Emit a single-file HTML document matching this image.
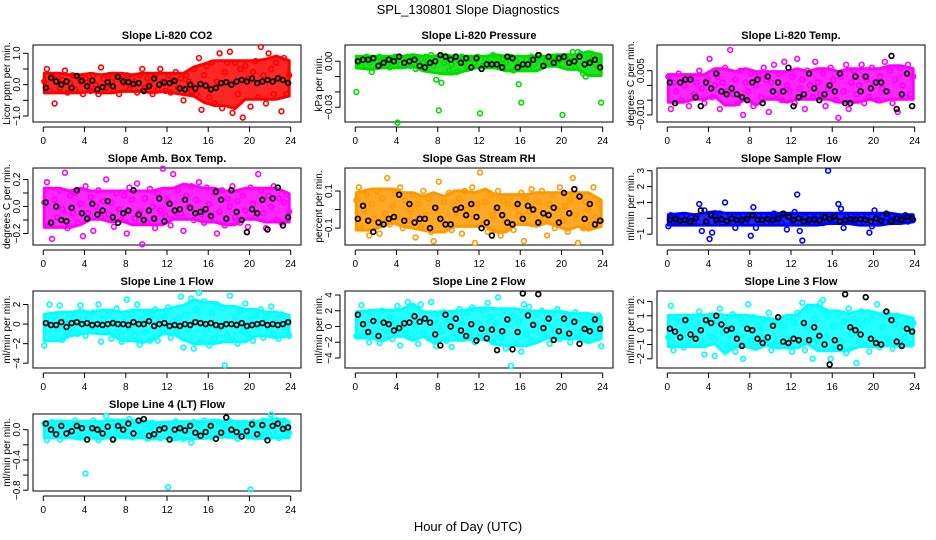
<!DOCTYPE html>
<html><head><meta charset="utf-8">
<style>
html,body{margin:0;padding:0;background:#fff;}
svg{display:block;font-family:"Liberation Sans",sans-serif;}
</style></head>
<body>
<svg id="chart" width="936" height="540" viewBox="0 0 936 540">
<rect x="0" y="0" width="936" height="540" fill="#fff"/>
<text x="468" y="14" text-anchor="middle" font-size="13">SPL_130801  Slope Diagnostics</text>
<text x="468" y="531" text-anchor="middle" font-size="13">Hour of Day (UTC)</text>
</svg>
<script>
const hours = [0.1,0.35,0.6,0.85,1.1,1.35,1.6,1.85,2.1,2.35,2.6,2.85,3.1,3.35,3.6,3.85,4.1,4.35,4.6,4.85,5.1,5.35,5.6,5.85,6.1,6.35,6.6,6.85,7.1,7.35,7.6,7.85,8.1,8.35,8.6,8.85,9.1,9.35,9.6,9.85,10.1,10.35,10.6,10.85,11.1,11.35,11.6,11.85,12.1,12.35,12.6,12.85,13.1,13.35,13.6,13.85,14.1,14.35,14.6,14.85,15.1,15.35,15.6,15.85,16.1,16.35,16.6,16.85,17.1,17.35,17.6,17.85,18.1,18.35,18.6,18.85,19.1,19.35,19.6,19.85,20.1,20.35,20.6,20.85,21.1,21.35,21.6,21.85,22.1,22.35,22.6,22.85,23.1,23.35,23.6,23.85];
const blackHours = [0.25,0.75,1.25,1.75,2.25,2.75,3.25,3.75,4.25,4.75,5.25,5.75,6.25,6.75,7.25,7.75,8.25,8.75,9.25,9.75,10.25,10.75,11.25,11.75,12.25,12.75,13.25,13.75,14.25,14.75,15.25,15.75,16.25,16.75,17.25,17.75,18.25,18.75,19.25,19.75,20.25,20.75,21.25,21.75,22.25,22.75,23.25,23.75];
const xTicks = [0,4,8,12,16,20,24];

const co2Vals = [0.1,0.5,-0.2,0.2,-0.6,0.3,-0.1,0.15,0.45,-0.25,0.05,0.3,-0.15,0.25,0.1,-0.3,0.2,0.05,-0.2,0.3,0.0,-0.3,0.55,0.2,-0.1,0.3,0.1,-0.2,0.25,-0.3,0.15,0.05,0.3,-0.15,0.2,0.1,-0.25,0.3,0.5,-0.1,0.2,0.0,-0.3,0.3,-0.15,0.5,0.1,-0.2,0.3,-0.25,0.15,0.4,-0.1,0.2,-0.5,0.3,0.1,-0.2,0.5,-0.3,0.85,-0.8,0.3,0.6,-0.4,0.7,-0.6,0.1,1.0,-0.75,0.4,0.7,1.05,-0.9,0.7,-0.3,0.5,-1.05,0.6,0.2,-0.7,0.4,0.75,-0.4,1.2,0.3,-0.6,1.0,0.5,-0.3,0.7,0.2,-0.85,0.85,-0.3,0.3];
const co2Black = [-0.1,0.22,0.1,0.0,0.1,-0.1,0.28,0.12,-0.05,0.13,-0.15,-0.08,0.08,-0.05,0.25,0.1,0.08,0.02,0.05,-0.2,-0.05,0.2,0.0,0.07,0.05,0.12,-0.12,-0.15,0.0,-0.12,0.02,-0.03,-0.15,-0.1,0.05,0.08,0.0,0.1,0.15,0.1,0.2,0.05,0.1,0.15,0.1,0.2,0.15,0.05];
const presVals = [-0.020,0.002,-0.003,0.001,0.003,-0.001,-0.007,0.002,0.000,0.003,-0.002,0.001,0.002,-0.004,0.000,0.003,-0.040,-0.002,0.002,-0.001,0.003,-0.003,0.001,-0.005,0.000,0.002,-0.001,0.003,-0.002,0.004,-0.003,-0.012,-0.032,-0.014,-0.001,0.003,-0.006,-0.002,0.002,-0.007,0.000,0.003,-0.001,-0.005,0.002,0.001,-0.001,0.003,-0.034,-0.003,0.002,0.000,-0.001,0.004,-0.002,0.003,-0.004,0.001,-0.001,0.002,0.003,-0.006,0.000,-0.015,-0.027,-0.005,0.001,-0.005,0.003,-0.002,0.001,0.004,0.000,-0.003,0.002,-0.001,0.003,-0.002,0.000,0.001,-0.035,0.002,-0.001,0.003,0.006,-0.004,0.006,0.005,-0.008,-0.010,0.002,0.000,0.003,-0.002,0.001,-0.027];
const presBlack = [0.000,0.001,0.001,0.002,-0.003,-0.001,0.001,0.000,0.003,-0.001,0.000,0.001,-0.003,-0.004,-0.001,0.000,0.004,0.003,0.001,0.003,-0.001,0.002,-0.004,0.002,-0.005,-0.002,-0.002,-0.002,-0.004,0.003,0.002,-0.004,-0.002,-0.002,0.001,0.004,-0.003,0.003,-0.001,0.002,0.003,-0.001,0.000,0.003,-0.002,-0.001,0.001,-0.004];
const tempVals = [0.003,-0.008,0.001,-0.002,0.004,-0.005,0.000,0.002,-0.007,0.003,-0.003,0.001,0.005,-0.001,-0.006,0.002,0.009,-0.004,0.000,0.003,-0.008,0.001,0.006,-0.002,0.012,-0.003,0.002,-0.006,0.005,-0.010,0.001,-0.002,0.004,-0.007,0.000,0.003,-0.004,0.006,0.002,-0.009,0.001,0.007,-0.003,0.004,-0.005,0.008,0.000,-0.002,0.003,-0.006,0.009,-0.001,0.002,-0.008,0.005,0.000,-0.004,0.008,0.001,-0.003,0.004,-0.007,-0.001,0.006,0.002,-0.005,-0.011,0.003,-0.002,0.007,-0.008,0.001,0.005,-0.003,0.000,0.007,-0.006,0.002,-0.004,0.006,0.001,-0.005,0.003,-0.001,0.008,-0.002,0.005,-0.006,0.002,-0.009,0.006,0.000,-0.004,0.007,-0.003,0.003];
const tempBlack = [0.001,-0.006,0.001,0.002,0.002,-0.004,-0.007,0.001,-0.001,0.004,-0.002,-0.003,-0.001,-0.003,-0.004,-0.005,0.001,0.002,-0.006,0.003,-0.002,0.001,-0.002,0.006,-0.007,-0.004,-0.003,0.004,-0.001,-0.005,-0.003,0.000,-0.002,0.004,-0.006,-0.006,0.003,-0.002,0.003,-0.001,0.001,0.001,-0.002,0.010,-0.008,-0.003,0.004,-0.007];
const ambVals = [0.03,0.18,-0.14,-0.24,0.05,-0.08,0.12,-0.02,0.25,-0.16,0.08,-0.05,0.10,-0.12,0.02,-0.22,0.15,-0.05,0.07,-0.18,0.00,0.12,-0.08,0.04,0.20,-0.06,0.03,-0.15,0.10,-0.02,-0.10,0.08,-0.20,0.14,0.05,-0.09,0.17,-0.04,-0.28,0.06,-0.12,0.13,0.00,-0.16,0.10,-0.03,0.28,-0.07,0.04,-0.14,0.24,-0.08,0.12,-0.05,-0.18,0.08,0.00,0.15,-0.10,0.05,0.18,-0.06,-0.12,0.14,0.02,-0.08,0.10,-0.20,-0.04,0.12,-0.14,0.06,0.00,0.15,-0.08,0.04,-0.12,0.08,-0.03,-0.15,0.14,0.02,-0.08,0.24,0.12,-0.05,-0.16,0.08,0.00,0.15,-0.10,0.06,-0.12,0.03,0.09,-0.04];
const ambBlack = [0.03,-0.12,0.00,-0.10,-0.11,-0.01,0.12,-0.05,-0.09,0.02,-0.06,-0.03,0.04,-0.08,-0.12,-0.05,-0.03,0.12,-0.06,-0.10,-0.03,-0.09,0.06,-0.11,0.02,-0.03,-0.02,0.05,-0.01,-0.05,-0.04,-0.02,-0.07,0.11,0.05,-0.09,0.12,-0.04,-0.10,-0.19,-0.02,-0.05,0.05,-0.17,0.06,0.14,-0.14,-0.08];
const rhVals = [0.05,0.12,-0.10,0.00,0.08,-0.14,0.03,-0.05,0.10,-0.13,0.06,-0.02,0.17,-0.08,0.02,0.10,-0.04,0.12,-0.10,0.05,-0.06,0.00,0.08,-0.15,0.03,-0.09,0.10,-0.03,0.06,-0.12,-0.17,0.00,0.15,-0.06,0.04,-0.08,0.09,-0.11,0.02,-0.02,0.06,-0.13,0.10,0.00,-0.05,0.12,-0.18,0.03,0.20,-0.08,0.04,-0.12,0.08,-0.03,0.00,0.10,-0.14,0.05,-0.07,0.03,0.07,-0.11,0.02,-0.03,0.09,-0.17,0.06,-0.01,0.11,0.00,-0.08,0.04,0.10,-0.05,-0.14,0.03,0.08,-0.10,0.00,0.12,-0.06,0.02,-0.12,0.05,0.17,-0.03,-0.18,0.08,-0.10,0.04,0.00,-0.08,0.12,-0.04,0.03,-0.06];
const rhBlack = [-0.05,0.02,-0.06,-0.12,-0.07,-0.08,-0.05,-0.04,0.08,-0.06,0.03,-0.07,-0.05,-0.05,-0.10,0.01,-0.05,-0.08,-0.08,0.00,0.01,-0.03,0.03,-0.04,-0.10,-0.07,-0.14,0.01,-0.03,-0.07,-0.08,0.03,-0.05,0.02,0.00,-0.07,-0.02,-0.03,0.01,-0.07,0.09,-0.02,0.11,0.07,-0.05,0.03,-0.08,-0.06];
const flowVals = [-0.5,0.2,-0.2,0.0,-0.3,0.1,-0.1,0.2,-0.3,0.05,-0.2,0.1,0.9,-0.8,0.5,-0.2,-1.3,-0.9,0.1,-0.3,0.3,-0.1,1.0,-0.2,0.2,-0.3,-0.6,0.1,-0.2,0.2,-0.3,0.1,-1.1,0.7,-0.6,0.2,-0.1,0.2,-0.3,0.1,-0.2,0.3,-0.1,0.0,-0.3,0.2,-0.7,0.1,-0.2,0.4,1.5,-0.8,-1.4,0.1,-0.2,0.2,-0.3,0.0,0.2,-0.1,-0.3,0.1,3.0,-0.2,0.2,-0.1,0.9,0.6,-0.6,0.1,-0.2,0.2,-0.1,0.0,-0.3,0.2,-0.1,0.1,-0.9,-0.5,0.5,0.2,-0.3,0.1,-0.2,0.0,-0.1,0.2,-0.2,0.1,-0.1,0.0,0.2,-0.2,0.1,-0.1];
const flowBlack = [-0.1,-0.05,-0.15,-0.1,-0.2,0.0,0.5,-0.2,0.2,-0.1,-0.05,-0.15,0.0,-0.1,-0.1,-0.05,0.2,-0.1,-0.1,-0.05,-0.1,0.0,0.3,0.1,-0.1,0.0,-0.2,-0.1,-0.1,-0.15,0.05,-0.05,0.1,-0.2,-0.1,-0.05,-0.1,-0.05,-0.1,-0.2,0.0,-0.15,0.3,-0.2,0.0,-0.1,0.1,0.0];
const line1Vals = [-2.2,0.5,2.0,-1.5,0.8,-0.5,1.9,-1.6,0.3,-0.8,1.0,-0.4,0.6,-1.0,1.9,0.4,-1.2,0.8,-0.6,1.2,-0.3,2.0,-1.8,0.5,-0.7,1.0,-1.5,0.3,1.6,-0.8,-1.8,0.7,2.5,-0.4,1.0,-1.2,2.0,-2.1,0.5,-0.8,1.2,-1.7,0.9,1.5,-1.7,0.4,-0.6,0.8,1.7,-1.4,0.3,-0.8,0.6,2.8,-2.4,1.0,-0.5,2.6,-2.5,1.5,3.2,-1.8,2.3,-0.6,-2.2,1.2,-1.5,2.0,-0.4,1.6,-4.2,-1.2,2.9,-1.6,0.5,-2.0,1.3,-0.7,2.1,-1.0,0.4,-1.7,0.9,-0.3,1.5,-1.4,0.7,-0.5,1.8,-1.0,0.6,-1.5,1.0,-0.3,0.5,-1.2];
const line1Black = [0.1,-0.1,-0.1,0.2,-0.3,0.1,0.2,0.0,0.1,-0.1,0.0,-0.1,0.0,0.1,0.0,0.0,-0.1,0.2,0.0,0.0,0.3,-0.2,0.0,0.1,-0.2,-0.1,-0.2,0.0,-0.1,0.2,0.1,0.0,0.1,-0.1,-0.2,0.0,0.0,-0.1,0.1,-0.2,-0.1,0.0,0.1,-0.1,0.0,-0.1,0.0,0.2];
const line2Vals = [-1.2,1.6,2.7,-0.8,0.4,-2.0,1.8,-1.0,0.6,-2.1,2.0,0.3,-0.7,1.2,-1.6,0.5,2.6,-2.4,0.8,-0.4,3.1,-1.0,1.5,0.2,-2.2,2.8,-0.8,1.0,-1.5,3.1,0.4,-2.5,1.6,-0.6,1.8,-1.8,0.8,-2.6,1.5,-1.0,2.2,0.3,-1.5,1.7,-0.8,2.4,-2.0,0.5,-1.3,2.1,-0.6,3.0,1.2,-2.0,0.4,3.7,-1.4,2.0,-2.8,0.9,-5.0,1.3,-2.2,0.6,-3.2,2.8,-1.0,2.5,-1.8,0.2,1.7,-0.6,2.0,-1.2,0.6,-2.2,1.6,-0.5,2.2,-1.6,0.8,-1.0,1.4,-2.0,0.5,1.8,-1.3,0.9,-0.6,1.5,-1.8,0.3,1.0,-0.8,1.4,-2.5];
const line2Black = [1.5,0.3,-0.7,0.7,-1.2,0.5,0.3,-0.5,-0.2,0.4,0.5,1.3,0.6,1.0,0.5,-1.0,-2.4,1.5,0.0,1.0,-0.5,-1.2,0.3,-1.8,-0.3,-1.5,-0.4,-3.0,-0.6,0.9,-2.9,-0.7,4.2,1.4,0.2,4.1,-0.2,1.0,-1.7,-0.6,1.0,-0.9,0.6,-2.2,-0.3,-0.6,0.9,-0.3];
const line3Vals = [-0.5,1.7,-1.4,0.9,-0.3,0.6,-1.2,0.2,-1.0,0.9,-0.6,0.4,1.3,-0.8,-1.7,0.3,1.0,-0.5,-1.8,0.6,1.5,-0.2,0.9,-1.0,0.2,1.1,-1.5,-0.4,0.8,-2.0,0.4,1.8,-0.7,0.9,-1.2,0.3,-0.5,0.7,-0.9,1.2,-1.4,0.4,-0.8,0.6,-1.1,0.3,-0.6,0.9,-1.5,0.5,1.2,-0.8,1.9,-1.4,0.2,1.6,-2.0,0.8,-0.6,1.9,2.1,-0.5,1.0,-2.0,0.3,-1.3,1.2,-0.8,0.6,-1.6,1.5,-0.3,0.8,-2.3,0.4,1.3,-1.0,0.6,-1.5,1.0,-0.7,1.8,-1.2,0.2,1.2,-0.6,0.9,-1.3,0.4,1.0,-0.9,0.3,-0.5,0.7,-1.0,0.5];
const line3Black = [0.1,-0.1,-0.5,0.7,-0.3,-0.6,0.0,0.7,0.5,1.0,0.4,0.0,0.1,-0.6,-1.1,0.1,0.0,-0.6,-0.9,-0.5,0.3,0.9,-0.8,-0.9,-0.6,-0.7,0.5,-0.7,0.2,-0.4,-1.0,-2.4,-0.7,-1.2,2.5,0.2,0.0,-0.3,2.3,-0.6,-0.9,-1.0,1.3,0.7,-0.8,-1.1,0.1,-0.1];
const line4Vals = [0.08,-0.14,0.05,0.10,-0.05,0.02,-0.13,0.09,0.0,-0.08,0.06,-0.02,0.12,-0.06,0.04,-0.10,-0.58,0.08,-0.04,0.12,0.02,-0.14,0.06,-0.03,0.18,-0.08,0.10,-0.12,0.04,0.0,-0.06,0.09,-0.02,0.14,-0.10,0.05,-0.08,0.10,-0.04,0.07,-0.12,0.02,0.09,-0.06,0.04,-0.11,0.08,0.0,-0.76,0.06,-0.08,0.11,-0.04,0.03,-0.12,0.08,-0.02,-0.17,0.10,-0.05,0.06,-0.09,0.12,-0.03,0.02,-0.10,0.08,-0.05,0.10,-0.08,0.04,-0.02,0.11,-0.07,0.05,-0.12,0.08,-0.03,0.02,-0.09,-0.79,0.10,-0.04,0.06,-0.06,0.12,-0.10,0.03,0.20,-0.05,0.08,-0.11,0.04,0.12,-0.08,-0.04];
const line4Black = [0.08,0.0,-0.06,0.05,-0.05,-0.02,0.05,0.02,-0.13,0.02,0.0,-0.05,0.04,-0.13,0.05,0.0,0.08,-0.05,0.12,0.14,-0.08,-0.06,0.0,0.02,-0.13,0.0,0.02,-0.01,0.05,-0.04,-0.08,-0.03,0.05,-0.12,-0.04,0.16,0.0,-0.03,-0.09,-0.02,0.07,-0.06,0.06,-0.14,0.05,0.08,0.01,0.03];

const panelTitles = ["Slope Li-820 CO2","Slope Li-820 Pressure","Slope Li-820 Temp.","Slope Amb. Box Temp.","Slope Gas Stream RH","Slope Sample Flow","Slope Line 1 Flow","Slope Line 2 Flow","Slope Line 3 Flow","Slope Line 4 (LT) Flow"];
const yTitles = ["Licor ppm per min.","kPa per min.","degrees C per min.","degrees C per min.","percent per min.","ml/min per min.","ml/min per min.","ml/min per min.","ml/min per min.","ml/min per min."];
const yTicks = [[-1,-0.5,0,0.5,1],[-0.03,-0.02,-0.01,0],[-0.01,-0.005,0,0.005],[-0.2,-0.1,0,0.1,0.2],[-0.1,0,0.1],[-1,0,1,2,3],[-4,-2,0,2],[-4,-2,0,2,4],[-2,-1,0,1,2],[-0.8,-0.6,-0.4,-0.2,0]];
const yTickLabels = [["−1.0","","0.0","","1.0"],["−0.03","","","0.00"],["−0.010","","","0.005"],["−0.2","","0.0","","0.2"],["−0.1","","0.1"],["−1","","1","2","3"],["−4","−2","0","2"],["−4","−2","0","2","4"],["−2","−1","0","1","2"],["−0.8","","−0.4","","0.0"]];
const yDomains = [[-1.19,1.265],[-0.0396,0.0106],[-0.0124,0.0137],[-0.285,0.285],[-0.191,0.224],[-1.68,3.17],[-4.49,3.38],[-5.27,4.51],[-2.64,2.73],[-0.81,0.207]];
const seriesVals = [co2Vals,presVals,tempVals,ambVals,rhVals,flowVals,line1Vals,line2Vals,line3Vals,line4Vals];
const seriesBlack = [co2Black,presBlack,tempBlack,ambBlack,rhBlack,flowBlack,line1Black,line2Black,line3Black,line4Black];
const seriesColors = ["#ff0000","#00dd00","#ff00ff","#ff00ff","#ff9900","#0000ff","#00ffff","#00ffff","#00ffff","#00ffff"];
const slugs = ["co2","pressure","licor-temp","amb-box-temp","gas-rh","sample-flow","line1-flow","line2-flow","line3-flow","line4-flow"];

const NS = "http://www.w3.org/2000/svg";
const svg = document.getElementById("chart");
function mk(tag, attrs, parent){const e=document.createElementNS(NS,tag);for(const k in attrs)e.setAttribute(k,attrs[k]);(parent||svg).appendChild(e);return e;}

const colX = [33,345,657], rowY = [45,168,291,414], W = 268, Hh = 77;
for (let p=0;p<10;p++){
  const bx = colX[p%3], by = rowY[Math.floor(p/3)];
  const g = mk("g",{});
  
  
  const xs = v => bx + 10.3 + (v/24)*(W-20.6);
  const [y0,y1] = yDomains[p];
  const ys = v => by + Hh - (v-y0)/(y1-y0)*Hh;
  const t = mk("text",{x:bx+W/2,y:by-6,"text-anchor":"middle","font-size":"11","font-weight":"bold"},g);
  t.textContent = panelTitles[p];
  
  
  const box = mk("rect",{x:bx,y:by,width:W,height:Hh,fill:"none",stroke:"#000","stroke-width":"1"},g);
  
  
  const xa = mk("g",{},g);
  
  
  mk("line",{x1:xs(0),x2:xs(24),y1:by+Hh+5,y2:by+Hh+5,stroke:"#000"},xa);
  xTicks.forEach(v=>{
    mk("line",{x1:xs(v),x2:xs(v),y1:by+Hh+5,y2:by+Hh+10,stroke:"#000"},xa);
    const l = mk("text",{x:xs(v),y:by+Hh+22,"text-anchor":"middle","font-size":"10"},xa);
    l.textContent = v;
    
    
  });
  const ya = mk("g",{},g);
  
  
  const tk = yTicks[p];
  mk("line",{x1:bx-5,x2:bx-5,y1:ys(tk[0]),y2:ys(tk[tk.length-1]),stroke:"#000"},ya);
  tk.forEach((v,i)=>{
    mk("line",{x1:bx-10,x2:bx-5,y1:ys(v),y2:ys(v),stroke:"#000"},ya);
    if (yTickLabels[p][i]) {
      const yy = ys(v);
      const l = mk("text",{x:bx-13,y:yy,"text-anchor":"middle","font-size":"10",transform:`rotate(-90 ${bx-13} ${yy})`},ya);
      l.textContent = yTickLabels[p][i];
      
      
    }
  });
  const ytx = bx-23, yty = by+Hh/2;
  const yt = mk("text",{x:ytx,y:yty,"text-anchor":"middle","font-size":"10",transform:`rotate(-90 ${ytx} ${yty})`},g);
  yt.textContent = yTitles[p];
  
  
  // dense cloud envelope derived from the data (rolling percentiles)
  const vals = seriesVals[p];
  const top = [], bot = [];
  for (let i=0;i<vals.length;i+=4){
    const win = vals.slice(Math.max(0,i-6), Math.min(vals.length,i+10)).slice().sort((a,b)=>a-b);
    const lo = win[Math.floor(win.length*0.2)], hi = win[Math.ceil(win.length*0.8)-1];
    const hx = hours[Math.min(vals.length-1,i+2)];
    top.push([xs(hx), ys(hi)-2]);
    bot.push([xs(hx), ys(lo)+2]);
  }
  top[0][0] = xs(hours[0]); bot[0][0] = xs(hours[0]);
  top[top.length-1][0] = xs(hours[hours.length-1]); bot[bot.length-1][0] = xs(hours[hours.length-1]);
  const pts = top.concat(bot.reverse()).map(q=>q[0].toFixed(1)+","+q[1].toFixed(1)).join(" ");
  const env = mk("polygon",{points:pts,fill:seriesColors[p],"fill-opacity":"0.85",stroke:seriesColors[p],"stroke-width":"3","stroke-linejoin":"round"},g);
  
  
  const sg = mk("g",{},g);
  
  
  vals.forEach((v,i)=>{
    const c = mk("circle",{cx:xs(hours[i]),cy:ys(v),r:2.4,fill:"none",stroke:seriesColors[p],"stroke-width":"1.6"},sg);
    
    
  });
  const bg = mk("g",{},g);
  
  
  seriesBlack[p].forEach((v,i)=>{
    const c = mk("circle",{cx:xs(blackHours[i]),cy:ys(v),r:2.4,fill:"none",stroke:"#000","stroke-width":"1.7"},bg);
    
    
  });
}
</script>
</body></html>
